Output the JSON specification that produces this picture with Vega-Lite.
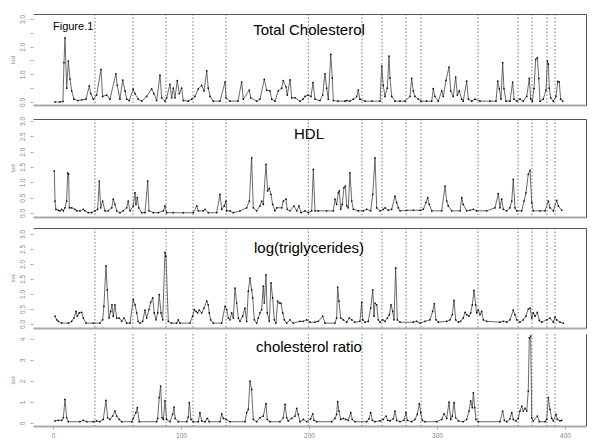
{
"$schema": "https://vega.github.io/schema/vega-lite/v6.json",
"padding": {"left": 9, "top": 13, "right": 5, "bottom": 5},
"config": {"view": {"stroke": null}, "font": "Liberation Sans", "axis": {"grid": false}},
"datasets": {
"bounds": [{"pos":32.8},{"pos":62.5},{"pos":88.3},{"pos":109.4},{"pos":135.2},{"pos":199.5},{"pos":241.4},{"pos":257.0},{"pos":275.8},{"pos":287.5},{"pos":332.0},{"pos":363.3},{"pos":374.2},{"pos":385.9},{"pos":392.2}],
"tc": [{"pos":1.6,"lod":0},{"pos":5.5,"lod":0},{"pos":7.8,"lod":0.02},{"pos":8.6,"lod":1.42},{"pos":9.4,"lod":2.32},{"pos":10.7,"lod":0.5},{"pos":12.0,"lod":1.48},{"pos":13.3,"lod":0.83},{"pos":14.6,"lod":0.4},{"pos":16.4,"lod":0.1},{"pos":19.5,"lod":0.05},{"pos":22.7,"lod":0.08},{"pos":25.8,"lod":0.1},{"pos":28.4,"lod":0.58},{"pos":29.5,"lod":0.3},{"pos":31.5,"lod":0.1},{"pos":34.1,"lod":0.25},{"pos":37.5,"lod":1.18},{"pos":38.8,"lod":0.2},{"pos":42.0,"lod":0.25},{"pos":44.5,"lod":0.1},{"pos":49.2,"lod":1.02},{"pos":50.2,"lod":0.6},{"pos":52.3,"lod":0.1},{"pos":54.5,"lod":0.79},{"pos":56.3,"lod":0.4},{"pos":57.6,"lod":0.1},{"pos":59.6,"lod":0.05},{"pos":62.7,"lod":0.46},{"pos":64.1,"lod":0.3},{"pos":66.6,"lod":0.1},{"pos":69.3,"lod":0.03},{"pos":73.2,"lod":0.2},{"pos":77.1,"lod":0.47},{"pos":78.9,"lod":0.3},{"pos":81.0,"lod":0.05},{"pos":83.6,"lod":0.97},{"pos":84.9,"lod":0.15},{"pos":87.5,"lod":0.03},{"pos":88.8,"lod":0.15},{"pos":91.4,"lod":0.64},{"pos":92.7,"lod":0.15},{"pos":94.0,"lod":0.5},{"pos":95.3,"lod":0.15},{"pos":97.1,"lod":0.77},{"pos":98.7,"lod":0.3},{"pos":100.5,"lod":0.5},{"pos":101.8,"lod":0.05},{"pos":105.7,"lod":0.03},{"pos":108.4,"lod":0.1},{"pos":110.9,"lod":0.2},{"pos":113.5,"lod":0.47},{"pos":116.2,"lod":0.6},{"pos":118.0,"lod":0.4},{"pos":120.1,"lod":1.12},{"pos":121.3,"lod":0.5},{"pos":122.7,"lod":0.2},{"pos":125.2,"lod":0.03},{"pos":130.5,"lod":0.03},{"pos":134.4,"lod":0.72},{"pos":135.2,"lod":0.15},{"pos":138.3,"lod":0.03},{"pos":144.5,"lod":0.03},{"pos":147.4,"lod":0.72},{"pos":148.7,"lod":0.1},{"pos":153.4,"lod":0.43},{"pos":154.5,"lod":0.15},{"pos":159.1,"lod":0.03},{"pos":161.7,"lod":0.1},{"pos":165.1,"lod":0.82},{"pos":166.9,"lod":0.43},{"pos":169.5,"lod":0.4},{"pos":170.9,"lod":0.1},{"pos":173.4,"lod":0.03},{"pos":176.0,"lod":0.4},{"pos":178.7,"lod":0.5},{"pos":179.9,"lod":0.77},{"pos":182.0,"lod":0.55},{"pos":183.0,"lod":0.25},{"pos":185.2,"lod":0.8},{"pos":186.5,"lod":0.15},{"pos":189.1,"lod":0.15},{"pos":193.0,"lod":0.03},{"pos":195.3,"lod":0.1},{"pos":196.9,"lod":0.2},{"pos":199.2,"lod":0.25},{"pos":201.6,"lod":0.2},{"pos":203.1,"lod":0.7},{"pos":204.7,"lod":0.1},{"pos":208.6,"lod":0.05},{"pos":210.7,"lod":0.25},{"pos":212.5,"lod":1.02},{"pos":213.8,"lod":0.5},{"pos":215.1,"lod":0.1},{"pos":217.0,"lod":1.72},{"pos":218.2,"lod":0.87},{"pos":219.0,"lod":0.05},{"pos":222.7,"lod":0.03},{"pos":228.1,"lod":0.03},{"pos":229.5,"lod":0.05},{"pos":232.0,"lod":0.03},{"pos":234.6,"lod":0.1},{"pos":237.3,"lod":0.2},{"pos":238.5,"lod":0.43},{"pos":239.8,"lod":0.1},{"pos":243.8,"lod":0.03},{"pos":249.2,"lod":0.03},{"pos":255.5,"lod":0.03},{"pos":256.8,"lod":1.3},{"pos":258.0,"lod":0.6},{"pos":259.4,"lod":0.2},{"pos":261.2,"lod":0.5},{"pos":262.5,"lod":1.66},{"pos":263.3,"lod":0.87},{"pos":264.6,"lod":0.2},{"pos":267.2,"lod":0.03},{"pos":271.1,"lod":0.03},{"pos":275.0,"lod":0.03},{"pos":278.9,"lod":0.2},{"pos":280.2,"lod":0.85},{"pos":281.5,"lod":0.4},{"pos":282.8,"lod":0.2},{"pos":285.4,"lod":0.1},{"pos":287.5,"lod":0.03},{"pos":291.9,"lod":0.03},{"pos":295.9,"lod":0.03},{"pos":297.1,"lod":0.48},{"pos":298.4,"lod":0.2},{"pos":301.0,"lod":0.03},{"pos":303.7,"lod":0.4},{"pos":304.9,"lod":0.2},{"pos":307.0,"lod":0.78},{"pos":309.4,"lod":1.26},{"pos":310.7,"lod":0.4},{"pos":312.7,"lod":0.2},{"pos":314.6,"lod":0.9},{"pos":315.9,"lod":0.25},{"pos":317.4,"lod":0.4},{"pos":319.3,"lod":0.1},{"pos":320.5,"lod":0.03},{"pos":323.2,"lod":0.75},{"pos":324.5,"lod":0.1},{"pos":327.1,"lod":0.03},{"pos":329.7,"lod":0.1},{"pos":333.6,"lod":0.03},{"pos":341.4,"lod":0.03},{"pos":346.1,"lod":0.03},{"pos":347.4,"lod":0.75},{"pos":348.7,"lod":0.48},{"pos":350.0,"lod":0.1},{"pos":351.3,"lod":1.42},{"pos":352.3,"lod":0.48},{"pos":353.9,"lod":0.03},{"pos":357.0,"lod":0.03},{"pos":359.1,"lod":0.72},{"pos":360.2,"lod":0.1},{"pos":362.3,"lod":0.03},{"pos":364.8,"lod":0.1},{"pos":367.4,"lod":0.03},{"pos":370.1,"lod":0.2},{"pos":372.1,"lod":0.85},{"pos":373.2,"lod":0.1},{"pos":374.5,"lod":0.03},{"pos":375.8,"lod":0.48},{"pos":377.1,"lod":1.54},{"pos":378.4,"lod":1.6},{"pos":379.5,"lod":0.85},{"pos":380.5,"lod":0.03},{"pos":383.0,"lod":0.1},{"pos":385.2,"lod":0.43},{"pos":386.2,"lod":1.48},{"pos":387.0,"lod":1.37},{"pos":387.7,"lod":0.5},{"pos":388.8,"lod":0.15},{"pos":390.9,"lod":0.03},{"pos":393.0,"lod":0.2},{"pos":394.3,"lod":0.74},{"pos":395.5,"lod":0.72},{"pos":396.6,"lod":0.1},{"pos":398.2,"lod":0.03}],
"hdl": [{"pos":1.0,"lod":1.37},{"pos":1.6,"lod":0.39},{"pos":2.3,"lod":0.12},{"pos":4.2,"lod":0.09},{"pos":5.5,"lod":0.07},{"pos":6.8,"lod":0.12},{"pos":8.1,"lod":0.07},{"pos":9.4,"lod":0.17},{"pos":10.7,"lod":0.39},{"pos":11.5,"lod":1.31},{"pos":12.2,"lod":1.26},{"pos":12.8,"lod":0.17},{"pos":14.6,"lod":0.17},{"pos":17.2,"lod":0.12},{"pos":18.5,"lod":0.07},{"pos":21.1,"lod":0.07},{"pos":23.7,"lod":0.12},{"pos":25.0,"lod":0.07},{"pos":27.6,"lod":0.01},{"pos":30.2,"lod":0.01},{"pos":32.8,"lod":0.07},{"pos":34.9,"lod":0.12},{"pos":36.2,"lod":1.04},{"pos":37.3,"lod":0.17},{"pos":38.8,"lod":0.39},{"pos":40.6,"lod":0.07},{"pos":43.2,"lod":0.07},{"pos":45.9,"lod":0.17},{"pos":47.1,"lod":0.45},{"pos":48.4,"lod":0.28},{"pos":49.8,"lod":0.07},{"pos":52.3,"lod":0.01},{"pos":54.9,"lod":0.07},{"pos":57.6,"lod":0.17},{"pos":58.8,"lod":0.39},{"pos":60.2,"lod":0.07},{"pos":62.7,"lod":0.23},{"pos":64.1,"lod":0.66},{"pos":64.8,"lod":0.28},{"pos":65.9,"lod":0.5},{"pos":67.0,"lod":0.17},{"pos":69.3,"lod":0.01},{"pos":71.9,"lod":0.01},{"pos":74.0,"lod":1.04},{"pos":75.0,"lod":0.07},{"pos":78.4,"lod":0.01},{"pos":82.3,"lod":0.01},{"pos":86.2,"lod":0.07},{"pos":87.5,"lod":0.23},{"pos":88.8,"lod":0.01},{"pos":94.0,"lod":0.01},{"pos":101.8,"lod":0.01},{"pos":109.6,"lod":0.01},{"pos":112.3,"lod":0.23},{"pos":113.5,"lod":0.07},{"pos":117.4,"lod":0.07},{"pos":118.8,"lod":0.12},{"pos":121.3,"lod":0.01},{"pos":127.9,"lod":0.01},{"pos":130.5,"lod":0.61},{"pos":131.8,"lod":0.12},{"pos":133.8,"lod":0.23},{"pos":135.2,"lod":0.39},{"pos":135.7,"lod":0.07},{"pos":138.3,"lod":0.07},{"pos":140.9,"lod":0.01},{"pos":146.1,"lod":0.07},{"pos":151.3,"lod":0.17},{"pos":153.4,"lod":0.39},{"pos":155.2,"lod":1.8},{"pos":156.5,"lod":0.17},{"pos":159.1,"lod":0.07},{"pos":161.7,"lod":0.23},{"pos":163.0,"lod":0.39},{"pos":164.3,"lod":0.28},{"pos":166.4,"lod":1.59},{"pos":167.7,"lod":0.72},{"pos":169.0,"lod":0.8},{"pos":170.3,"lod":0.61},{"pos":171.6,"lod":0.28},{"pos":173.4,"lod":0.07},{"pos":174.8,"lod":0.17},{"pos":178.7,"lod":0.17},{"pos":179.9,"lod":0.39},{"pos":182.0,"lod":0.45},{"pos":183.0,"lod":0.12},{"pos":185.2,"lod":0.07},{"pos":188.3,"lod":0.23},{"pos":190.4,"lod":0.07},{"pos":192.2,"lod":0.23},{"pos":193.8,"lod":0.01},{"pos":196.9,"lod":0.07},{"pos":199.5,"lod":0.01},{"pos":202.1,"lod":0.07},{"pos":203.4,"lod":1.42},{"pos":204.7,"lod":0.07},{"pos":207.3,"lod":0.07},{"pos":213.8,"lod":0.07},{"pos":219.0,"lod":0.07},{"pos":220.3,"lod":0.45},{"pos":221.6,"lod":0.28},{"pos":222.9,"lod":0.66},{"pos":223.7,"lod":0.72},{"pos":224.8,"lod":0.12},{"pos":226.0,"lod":0.28},{"pos":227.3,"lod":0.83},{"pos":228.4,"lod":0.88},{"pos":229.5,"lod":0.23},{"pos":230.7,"lod":0.17},{"pos":232.0,"lod":1.31},{"pos":233.4,"lod":0.39},{"pos":234.6,"lod":0.12},{"pos":238.5,"lod":0.07},{"pos":242.4,"lod":0.07},{"pos":245.1,"lod":0.12},{"pos":248.2,"lod":0.07},{"pos":249.8,"lod":0.61},{"pos":251.6,"lod":1.8},{"pos":252.9,"lod":0.17},{"pos":255.5,"lod":0.07},{"pos":258.0,"lod":0.12},{"pos":259.4,"lod":0.17},{"pos":262.0,"lod":0.09},{"pos":264.6,"lod":0.12},{"pos":267.2,"lod":0.55},{"pos":268.5,"lod":0.34},{"pos":269.8,"lod":0.17},{"pos":271.1,"lod":0.07},{"pos":276.3,"lod":0.09},{"pos":281.5,"lod":0.09},{"pos":286.7,"lod":0.09},{"pos":289.3,"lod":0.12},{"pos":291.4,"lod":0.34},{"pos":292.7,"lod":0.5},{"pos":294.0,"lod":0.28},{"pos":295.9,"lod":0.07},{"pos":303.7,"lod":0.07},{"pos":306.3,"lod":0.88},{"pos":307.6,"lod":0.39},{"pos":308.8,"lod":0.23},{"pos":311.5,"lod":0.07},{"pos":318.0,"lod":0.07},{"pos":319.3,"lod":0.5},{"pos":320.5,"lod":0.28},{"pos":323.2,"lod":0.07},{"pos":325.8,"lod":0.09},{"pos":328.4,"lod":0.12},{"pos":331.0,"lod":0.07},{"pos":338.8,"lod":0.07},{"pos":345.3,"lod":0.17},{"pos":347.9,"lod":0.63},{"pos":349.2,"lod":0.17},{"pos":350.5,"lod":0.45},{"pos":351.8,"lod":0.12},{"pos":354.5,"lod":0.07},{"pos":357.0,"lod":0.17},{"pos":358.4,"lod":0.39},{"pos":359.6,"lod":1.1},{"pos":360.9,"lod":0.17},{"pos":362.3,"lod":0.07},{"pos":366.2,"lod":0.07},{"pos":368.0,"lod":0.39},{"pos":369.5,"lod":0.66},{"pos":371.3,"lod":1.26},{"pos":372.7,"lod":1.39},{"pos":374.0,"lod":0.34},{"pos":375.2,"lod":0.07},{"pos":380.5,"lod":0.07},{"pos":384.4,"lod":0.07},{"pos":387.0,"lod":0.39},{"pos":388.3,"lod":0.17},{"pos":390.9,"lod":0.07},{"pos":393.5,"lod":0.41},{"pos":394.8,"lod":0.23},{"pos":397.4,"lod":0.09}],
"tg": [{"pos":1.6,"lod":0.26},{"pos":2.9,"lod":0.14},{"pos":4.2,"lod":0.09},{"pos":6.8,"lod":0.03},{"pos":12.0,"lod":0.03},{"pos":14.6,"lod":0.09},{"pos":16.4,"lod":0.2},{"pos":18.0,"lod":0.42},{"pos":19.0,"lod":0.26},{"pos":20.5,"lod":0.37},{"pos":22.4,"lod":0.39},{"pos":23.7,"lod":0.2},{"pos":25.8,"lod":0.03},{"pos":31.5,"lod":0.03},{"pos":36.7,"lod":0.03},{"pos":38.8,"lod":0.14},{"pos":39.8,"lod":0.59},{"pos":41.4,"lod":1.94},{"pos":42.4,"lod":1.14},{"pos":43.8,"lod":0.2},{"pos":45.1,"lod":0.42},{"pos":46.1,"lod":0.64},{"pos":47.1,"lod":0.26},{"pos":48.4,"lod":0.64},{"pos":49.8,"lod":0.2},{"pos":51.8,"lod":0.2},{"pos":53.7,"lod":0.09},{"pos":55.5,"lod":0.2},{"pos":57.6,"lod":0.03},{"pos":60.2,"lod":0.03},{"pos":62.7,"lod":0.81},{"pos":64.1,"lod":0.64},{"pos":65.4,"lod":0.37},{"pos":66.6,"lod":0.09},{"pos":68.0,"lod":0.03},{"pos":70.1,"lod":0.09},{"pos":71.9,"lod":0.46},{"pos":73.2,"lod":0.2},{"pos":75.0,"lod":0.48},{"pos":76.3,"lod":0.72},{"pos":77.9,"lod":0.87},{"pos":79.1,"lod":0.37},{"pos":80.5,"lod":0.14},{"pos":81.8,"lod":0.37},{"pos":83.0,"lod":0.98},{"pos":84.4,"lod":0.37},{"pos":85.7,"lod":0.14},{"pos":87.5,"lod":2.39},{"pos":88.3,"lod":2.26},{"pos":90.1,"lod":0.09},{"pos":92.7,"lod":0.03},{"pos":96.6,"lod":0.03},{"pos":97.9,"lod":0.14},{"pos":99.2,"lod":0.03},{"pos":107.0,"lod":0.03},{"pos":109.1,"lod":0.26},{"pos":110.4,"lod":0.48},{"pos":111.7,"lod":0.42},{"pos":113.0,"lod":0.37},{"pos":114.3,"lod":0.46},{"pos":116.2,"lod":0.37},{"pos":118.0,"lod":0.53},{"pos":120.1,"lod":0.76},{"pos":121.3,"lod":0.64},{"pos":122.1,"lod":0.37},{"pos":123.2,"lod":0.14},{"pos":125.2,"lod":0.03},{"pos":131.8,"lod":0.03},{"pos":134.4,"lod":0.59},{"pos":135.7,"lod":0.48},{"pos":137.0,"lod":0.2},{"pos":138.3,"lod":0.14},{"pos":139.6,"lod":0.37},{"pos":140.9,"lod":0.2},{"pos":142.2,"lod":1.2},{"pos":143.5,"lod":0.7},{"pos":144.8,"lod":0.2},{"pos":146.1,"lod":0.09},{"pos":148.2,"lod":0.26},{"pos":150.0,"lod":0.53},{"pos":151.3,"lod":0.09},{"pos":152.6,"lod":1.09},{"pos":153.9,"lod":1.53},{"pos":155.2,"lod":1.14},{"pos":156.0,"lod":0.87},{"pos":157.3,"lod":0.14},{"pos":159.1,"lod":0.03},{"pos":160.4,"lod":0.2},{"pos":161.7,"lod":0.37},{"pos":163.0,"lod":0.48},{"pos":164.3,"lod":1.26},{"pos":165.1,"lod":0.7},{"pos":166.4,"lod":1.64},{"pos":167.4,"lod":0.37},{"pos":169.0,"lod":0.09},{"pos":170.3,"lod":1.37},{"pos":171.6,"lod":0.87},{"pos":172.9,"lod":0.14},{"pos":174.2,"lod":0.03},{"pos":175.5,"lod":0.76},{"pos":176.8,"lod":0.7},{"pos":178.1,"lod":0.7},{"pos":179.5,"lod":0.37},{"pos":180.7,"lod":0.14},{"pos":182.6,"lod":0.03},{"pos":185.2,"lod":0.14},{"pos":187.7,"lod":0.03},{"pos":193.0,"lod":0.09},{"pos":195.6,"lod":0.09},{"pos":198.2,"lod":0.14},{"pos":200.8,"lod":0.06},{"pos":204.7,"lod":0.06},{"pos":207.3,"lod":0.09},{"pos":210.7,"lod":0.26},{"pos":212.5,"lod":0.03},{"pos":220.3,"lod":0.03},{"pos":221.6,"lod":0.2},{"pos":222.4,"lod":1.23},{"pos":223.4,"lod":0.76},{"pos":224.8,"lod":0.2},{"pos":226.8,"lod":0.14},{"pos":229.5,"lod":0.06},{"pos":231.5,"lod":0.2},{"pos":233.4,"lod":0.14},{"pos":235.9,"lod":0.06},{"pos":239.8,"lod":0.09},{"pos":241.2,"lod":0.72},{"pos":242.0,"lod":0.14},{"pos":243.8,"lod":0.06},{"pos":246.3,"lod":0.09},{"pos":248.2,"lod":0.53},{"pos":249.8,"lod":1.14},{"pos":250.8,"lod":0.26},{"pos":251.6,"lod":0.7},{"pos":252.9,"lod":0.64},{"pos":254.1,"lod":0.14},{"pos":255.5,"lod":0.06},{"pos":257.6,"lod":0.14},{"pos":259.4,"lod":0.09},{"pos":261.2,"lod":0.2},{"pos":262.8,"lod":0.31},{"pos":264.1,"lod":0.64},{"pos":265.4,"lod":0.42},{"pos":266.4,"lod":0.14},{"pos":267.7,"lod":1.87},{"pos":269.0,"lod":0.14},{"pos":271.1,"lod":0.06},{"pos":281.5,"lod":0.06},{"pos":284.1,"lod":0.09},{"pos":286.7,"lod":0.03},{"pos":290.6,"lod":0.09},{"pos":294.5,"lod":0.14},{"pos":296.6,"lod":0.42},{"pos":297.9,"lod":0.68},{"pos":299.2,"lod":0.14},{"pos":301.0,"lod":0.06},{"pos":307.6,"lod":0.09},{"pos":310.2,"lod":0.14},{"pos":312.0,"lod":0.31},{"pos":313.3,"lod":0.79},{"pos":314.6,"lod":0.14},{"pos":316.7,"lod":0.06},{"pos":318.5,"lod":0.09},{"pos":320.5,"lod":0.2},{"pos":321.9,"lod":0.39},{"pos":323.2,"lod":0.31},{"pos":325.0,"lod":0.26},{"pos":326.3,"lod":0.37},{"pos":327.6,"lod":0.64},{"pos":328.9,"lod":1.12},{"pos":330.2,"lod":0.64},{"pos":331.0,"lod":0.37},{"pos":332.3,"lod":0.46},{"pos":333.6,"lod":0.31},{"pos":334.9,"lod":0.42},{"pos":336.2,"lod":0.14},{"pos":338.8,"lod":0.09},{"pos":349.2,"lod":0.06},{"pos":351.8,"lod":0.09},{"pos":354.5,"lod":0.06},{"pos":357.0,"lod":0.14},{"pos":359.6,"lod":0.46},{"pos":360.9,"lod":0.31},{"pos":362.3,"lod":0.14},{"pos":364.8,"lod":0.06},{"pos":367.4,"lod":0.14},{"pos":369.5,"lod":0.26},{"pos":371.3,"lod":0.5},{"pos":372.7,"lod":0.53},{"pos":374.0,"lod":0.2},{"pos":375.2,"lod":0.37},{"pos":376.6,"lod":0.26},{"pos":378.4,"lod":0.39},{"pos":379.9,"lod":0.12},{"pos":381.8,"lod":0.06},{"pos":385.7,"lod":0.14},{"pos":388.3,"lod":0.2},{"pos":390.9,"lod":0.06},{"pos":392.2,"lod":0.23},{"pos":393.5,"lod":0.14},{"pos":396.1,"lod":0.06},{"pos":398.7,"lod":0.03}],
"ratio": [{"pos":1.6,"lod":0.1},{"pos":4.2,"lod":0.13},{"pos":6.8,"lod":0.13},{"pos":8.1,"lod":0.25},{"pos":9.4,"lod":1.13},{"pos":10.7,"lod":0.25},{"pos":12.0,"lod":0.06},{"pos":21.1,"lod":0.06},{"pos":23.7,"lod":0.13},{"pos":26.3,"lod":0.06},{"pos":31.5,"lod":0.06},{"pos":34.1,"lod":0.1},{"pos":36.7,"lod":0.06},{"pos":39.3,"lod":0.17},{"pos":41.4,"lod":1.08},{"pos":42.7,"lod":0.25},{"pos":44.5,"lod":0.17},{"pos":46.6,"lod":0.33},{"pos":48.4,"lod":0.57},{"pos":49.8,"lod":0.33},{"pos":51.8,"lod":0.17},{"pos":53.7,"lod":0.06},{"pos":61.5,"lod":0.06},{"pos":62.7,"lod":0.22},{"pos":64.8,"lod":0.49},{"pos":65.9,"lod":0.73},{"pos":67.4,"lod":0.06},{"pos":81.0,"lod":0.06},{"pos":81.8,"lod":0.22},{"pos":83.0,"lod":1.21},{"pos":84.1,"lod":1.76},{"pos":85.2,"lod":0.25},{"pos":86.2,"lod":0.17},{"pos":87.5,"lod":1.05},{"pos":88.8,"lod":0.17},{"pos":91.4,"lod":0.06},{"pos":93.5,"lod":0.41},{"pos":94.5,"lod":0.76},{"pos":95.5,"lod":0.22},{"pos":97.9,"lod":0.06},{"pos":104.5,"lod":0.06},{"pos":105.7,"lod":0.28},{"pos":106.5,"lod":0.97},{"pos":107.8,"lod":0.17},{"pos":109.6,"lod":0.06},{"pos":113.5,"lod":0.06},{"pos":114.8,"lod":0.49},{"pos":116.2,"lod":0.1},{"pos":118.8,"lod":0.06},{"pos":120.6,"lod":0.22},{"pos":122.1,"lod":0.06},{"pos":130.5,"lod":0.06},{"pos":131.8,"lod":0.44},{"pos":133.1,"lod":0.22},{"pos":135.2,"lod":0.17},{"pos":138.3,"lod":0.06},{"pos":150.0,"lod":0.06},{"pos":151.3,"lod":0.49},{"pos":152.6,"lod":0.65},{"pos":153.9,"lod":2.0},{"pos":155.2,"lod":1.6},{"pos":156.5,"lod":0.17},{"pos":159.1,"lod":0.06},{"pos":161.7,"lod":0.25},{"pos":164.3,"lod":0.33},{"pos":166.4,"lod":0.92},{"pos":167.4,"lod":0.17},{"pos":169.5,"lod":0.06},{"pos":177.3,"lod":0.06},{"pos":179.9,"lod":0.25},{"pos":181.3,"lod":0.89},{"pos":182.6,"lod":0.25},{"pos":183.8,"lod":0.1},{"pos":186.5,"lod":0.22},{"pos":189.1,"lod":0.33},{"pos":190.4,"lod":0.7},{"pos":191.6,"lod":0.41},{"pos":193.0,"lod":0.06},{"pos":195.6,"lod":0.17},{"pos":198.2,"lod":0.06},{"pos":201.3,"lod":0.2},{"pos":202.9,"lod":0.44},{"pos":203.9,"lod":0.13},{"pos":206.0,"lod":0.06},{"pos":217.7,"lod":0.06},{"pos":220.3,"lod":0.22},{"pos":221.6,"lod":0.41},{"pos":222.4,"lod":1.02},{"pos":223.4,"lod":0.57},{"pos":224.8,"lod":0.17},{"pos":226.8,"lod":0.22},{"pos":228.7,"lod":0.17},{"pos":230.7,"lod":0.13},{"pos":232.6,"lod":0.49},{"pos":233.8,"lod":0.17},{"pos":235.9,"lod":0.06},{"pos":245.1,"lod":0.06},{"pos":246.9,"lod":0.2},{"pos":248.2,"lod":0.49},{"pos":249.5,"lod":0.13},{"pos":251.6,"lod":0.06},{"pos":255.5,"lod":0.1},{"pos":258.0,"lod":0.17},{"pos":260.2,"lod":0.33},{"pos":261.5,"lod":0.13},{"pos":263.3,"lod":0.1},{"pos":265.9,"lod":0.2},{"pos":267.2,"lod":0.57},{"pos":268.5,"lod":0.13},{"pos":271.1,"lod":0.06},{"pos":274.2,"lod":0.13},{"pos":275.8,"lod":0.49},{"pos":276.8,"lod":0.13},{"pos":280.2,"lod":0.06},{"pos":282.8,"lod":0.17},{"pos":284.6,"lod":0.41},{"pos":286.2,"lod":0.92},{"pos":287.3,"lod":0.49},{"pos":288.5,"lod":0.13},{"pos":290.6,"lod":0.06},{"pos":299.8,"lod":0.06},{"pos":303.7,"lod":0.17},{"pos":305.5,"lod":0.44},{"pos":307.6,"lod":0.22},{"pos":309.4,"lod":1.0},{"pos":310.7,"lod":0.17},{"pos":312.0,"lod":0.33},{"pos":313.3,"lod":0.97},{"pos":314.6,"lod":0.25},{"pos":316.7,"lod":0.1},{"pos":320.5,"lod":0.06},{"pos":323.2,"lod":0.17},{"pos":325.0,"lod":0.57},{"pos":326.3,"lod":1.05},{"pos":327.6,"lod":0.73},{"pos":328.4,"lod":1.44},{"pos":329.5,"lod":0.73},{"pos":330.5,"lod":0.17},{"pos":332.3,"lod":0.06},{"pos":349.2,"lod":0.06},{"pos":351.3,"lod":0.57},{"pos":352.6,"lod":0.13},{"pos":354.5,"lod":0.06},{"pos":357.0,"lod":0.2},{"pos":358.4,"lod":0.49},{"pos":359.6,"lod":0.17},{"pos":361.7,"lod":0.1},{"pos":363.5,"lod":0.22},{"pos":364.8,"lod":0.57},{"pos":366.2,"lod":0.81},{"pos":367.4,"lod":0.57},{"pos":368.8,"lod":0.7},{"pos":370.1,"lod":0.57},{"pos":371.3,"lod":1.52},{"pos":372.1,"lod":4.06},{"pos":373.2,"lod":4.14},{"pos":374.0,"lod":0.25},{"pos":375.2,"lod":0.1},{"pos":378.4,"lod":0.33},{"pos":379.9,"lod":0.06},{"pos":384.4,"lod":0.06},{"pos":385.7,"lod":0.17},{"pos":387.0,"lod":1.21},{"pos":388.3,"lod":0.65},{"pos":389.6,"lod":0.22},{"pos":390.9,"lod":0.1},{"pos":393.0,"lod":0.41},{"pos":394.0,"lod":0.17},{"pos":396.1,"lod":0.1},{"pos":397.4,"lod":0.13}]
},
"spacing": 14,
"bounds": "flush",
"vconcat": [
{
 "width": 553, "height": 91,
 "resolve": {"axis": {"x": "independent", "y": "independent"}},
 "layer": [
  {"data": {"name": "bounds"}, "mark": {"type": "rule", "color": "#555", "strokeWidth": 0.8, "strokeDash": [1.5, 2]},
   "encoding": {"x": {"field": "pos", "type": "quantitative", "scale": {"domain": [-15.6, 416.4], "nice": false, "zero": false}, "axis": null}}},
  {"data": {"name": "tc"}, "mark": {"type": "line", "color": "#444", "strokeWidth": 0.8, "point": {"filled": true, "size": 3, "color": "#111"}},
   "encoding": {
    "x": {"field": "pos", "type": "quantitative", "scale": {"domain": [-15.6, 416.4], "nice": false, "zero": false}, "axis": {"labels": false, "ticks": false, "title": null, "domainColor": "#aaa", "domainWidth": 2}},
    "y": {"field": "lod", "type": "quantitative", "scale": {"domain": [-0.11, 3.18], "nice": false, "zero": false}, "axis": {"values": [0, 0.5, 1, 1.5, 2, 2.5, 3], "labelExpr": "datum.value % 1 == 0 ? format(datum.value, '.1f') : ''", "title": "lod", "titleFontSize": 6, "titleColor": "#888", "titleFontWeight": "normal", "titlePadding": 2, "labelFontSize": 6.5, "labelColor": "#888", "labelAngle": -90, "labelAlign": "center", "labelBaseline": "bottom", "labelPadding": 5, "tickSize": 3, "tickColor": "#aaa", "domain": false, "minExtent": 16, "maxExtent": 16}}}},
  {"data": {"name": "tc"}, "mark": {"type": "line", "opacity": 0},
   "encoding": {
    "x": {"field": "pos", "type": "quantitative", "scale": {"domain": [-15.6, 416.4], "nice": false, "zero": false}, "axis": {"orient": "top", "labels": false, "ticks": false, "title": null, "domainColor": "#555", "domainWidth": 1}},
    "y": {"field": "lod", "type": "quantitative", "scale": {"domain": [-0.11, 3.18], "nice": false, "zero": false}, "axis": {"orient": "right", "labels": false, "ticks": false, "title": null, "domainColor": "#555", "domainWidth": 1}}}},
  {"data": {"values": [{"label": "Total Cholesterol"}]}, "mark": {"type": "text", "fontSize": 15, "color": "#000", "align": "center", "baseline": "middle"},
   "encoding": {"x": {"datum": 200, "type": "quantitative", "axis": null}, "y": {"datum": 2.6, "type": "quantitative", "axis": null}, "text": {"field": "label"}}},
  {"data": {"values": [{"label": "Figure.1"}]}, "mark": {"type": "text", "fontSize": 11, "color": "#000", "align": "left", "baseline": "middle"},
   "encoding": {"x": {"datum": 0, "type": "quantitative", "axis": null}, "y": {"datum": 2.71, "type": "quantitative", "axis": null}, "text": {"field": "label"}}}
 ]
},
{
 "spacing": 11,
 "bounds": "flush",
 "vconcat": [
 {
  "width": 553, "height": 98,
  "resolve": {"axis": {"x": "independent", "y": "independent"}},
  "layer": [
   {"data": {"name": "bounds"}, "mark": {"type": "rule", "color": "#555", "strokeWidth": 0.8, "strokeDash": [1.5, 2]},
    "encoding": {"x": {"field": "pos", "type": "quantitative", "scale": {"domain": [-15.6, 416.4], "nice": false, "zero": false}, "axis": null}}},
   {"data": {"name": "hdl"}, "mark": {"type": "line", "color": "#444", "strokeWidth": 0.8, "point": {"filled": true, "size": 3, "color": "#111"}},
    "encoding": {
     "x": {"field": "pos", "type": "quantitative", "scale": {"domain": [-15.6, 416.4], "nice": false, "zero": false}, "axis": {"labels": false, "ticks": false, "title": null, "domainColor": "#aaa", "domainWidth": 2}},
     "y": {"field": "lod", "type": "quantitative", "scale": {"domain": [-0.13, 3.065], "nice": false, "zero": false}, "axis": {"values": [0, 0.5, 1, 1.5, 2, 2.5, 3], "format": ".1f", "title": "lod", "titleFontSize": 6, "titleColor": "#888", "titleFontWeight": "normal", "titlePadding": 2, "labelFontSize": 6.5, "labelColor": "#888", "labelAngle": -90, "labelAlign": "center", "labelBaseline": "bottom", "labelPadding": 5, "tickSize": 3, "tickColor": "#aaa", "domain": false, "minExtent": 16, "maxExtent": 16}}}},
   {"data": {"name": "hdl"}, "mark": {"type": "line", "opacity": 0},
    "encoding": {
     "x": {"field": "pos", "type": "quantitative", "scale": {"domain": [-15.6, 416.4], "nice": false, "zero": false}, "axis": {"orient": "top", "labels": false, "ticks": false, "title": null, "domainColor": "#555", "domainWidth": 1}},
     "y": {"field": "lod", "type": "quantitative", "scale": {"domain": [-0.13, 3.065], "nice": false, "zero": false}, "axis": {"orient": "right", "labels": false, "ticks": false, "title": null, "domainColor": "#555", "domainWidth": 1}}}},
   {"data": {"values": [{"label": "HDL"}]}, "mark": {"type": "text", "fontSize": 15, "color": "#000", "align": "center", "baseline": "middle"},
    "encoding": {"x": {"datum": 200, "type": "quantitative", "axis": null}, "y": {"datum": 2.58, "type": "quantitative", "axis": null}, "text": {"field": "label"}}}
  ]
 },
 {
  "spacing": 6,
  "bounds": "flush",
  "vconcat": [
  {
   "width": 553, "height": 100,
   "resolve": {"axis": {"x": "independent", "y": "independent"}},
   "layer": [
    {"data": {"name": "bounds"}, "mark": {"type": "rule", "color": "#555", "strokeWidth": 0.8, "strokeDash": [1.5, 2]},
     "encoding": {"x": {"field": "pos", "type": "quantitative", "scale": {"domain": [-15.6, 416.4], "nice": false, "zero": false}, "axis": null}}},
    {"data": {"name": "tg"}, "mark": {"type": "line", "color": "#444", "strokeWidth": 0.8, "point": {"filled": true, "size": 3, "color": "#111"}},
     "encoding": {
      "x": {"field": "pos", "type": "quantitative", "scale": {"domain": [-15.6, 416.4], "nice": false, "zero": false}, "axis": {"labels": false, "ticks": false, "title": null, "domainColor": "#aaa", "domainWidth": 2}},
      "y": {"field": "lod", "type": "quantitative", "scale": {"domain": [-0.133, 3.2], "nice": false, "zero": false}, "axis": {"values": [0, 0.5, 1, 1.5, 2, 2.5, 3], "format": ".1f", "title": "lod", "titleFontSize": 6, "titleColor": "#888", "titleFontWeight": "normal", "titlePadding": 2, "labelFontSize": 6.5, "labelColor": "#888", "labelAngle": -90, "labelAlign": "center", "labelBaseline": "bottom", "labelPadding": 5, "tickSize": 3, "tickColor": "#aaa", "domain": false, "minExtent": 16, "maxExtent": 16}}}},
    {"data": {"name": "tg"}, "mark": {"type": "line", "opacity": 0},
     "encoding": {
      "x": {"field": "pos", "type": "quantitative", "scale": {"domain": [-15.6, 416.4], "nice": false, "zero": false}, "axis": {"orient": "top", "labels": false, "ticks": false, "title": null, "domainColor": "#555", "domainWidth": 1}},
      "y": {"field": "lod", "type": "quantitative", "scale": {"domain": [-0.133, 3.2], "nice": false, "zero": false}, "axis": {"orient": "right", "labels": false, "ticks": false, "title": null, "domainColor": "#555", "domainWidth": 1}}}},
    {"data": {"values": [{"label": "log(triglycerides)"}]}, "mark": {"type": "text", "fontSize": 15, "color": "#000", "align": "center", "baseline": "middle"},
     "encoding": {"x": {"datum": 200, "type": "quantitative", "axis": null}, "y": {"datum": 2.55, "type": "quantitative", "axis": null}, "text": {"field": "label"}}}
   ]
  },
  {
   "width": 553, "height": 92,
   "resolve": {"axis": {"x": "independent", "y": "independent"}},
   "layer": [
    {"data": {"name": "bounds"}, "mark": {"type": "rule", "color": "#555", "strokeWidth": 0.8, "strokeDash": [1.5, 2]},
     "encoding": {"x": {"field": "pos", "type": "quantitative", "scale": {"domain": [-15.6, 416.4], "nice": false, "zero": false}, "axis": null}}},
    {"data": {"name": "ratio"}, "mark": {"type": "line", "color": "#444", "strokeWidth": 0.8, "point": {"filled": true, "size": 3, "color": "#111"}},
     "encoding": {
      "x": {"field": "pos", "type": "quantitative", "scale": {"domain": [-15.6, 416.4], "nice": false, "zero": false}, "axis": {"values": [0, 100, 200, 300, 400], "format": "d", "title": null, "labelFontSize": 6.5, "labelColor": "#888", "labelPadding": 3, "tickSize": 3, "tickColor": "#aaa", "domainColor": "#aaa", "domainWidth": 2}},
      "y": {"field": "lod", "type": "quantitative", "scale": {"domain": [-0.143, 4.24], "nice": false, "zero": false}, "axis": {"values": [0, 1, 2, 3, 4], "format": "d", "title": "lod", "titleFontSize": 6, "titleColor": "#888", "titleFontWeight": "normal", "titlePadding": 2, "labelFontSize": 6.5, "labelColor": "#888", "labelAngle": -90, "labelAlign": "center", "labelBaseline": "bottom", "labelPadding": 5, "tickSize": 3, "tickColor": "#aaa", "domain": false, "minExtent": 16, "maxExtent": 16}}}},
    {"data": {"name": "ratio"}, "mark": {"type": "line", "opacity": 0},
     "encoding": {
      "x": {"field": "pos", "type": "quantitative", "scale": {"domain": [-15.6, 416.4], "nice": false, "zero": false}, "axis": null},
      "y": {"field": "lod", "type": "quantitative", "scale": {"domain": [-0.143, 4.24], "nice": false, "zero": false}, "axis": {"orient": "right", "labels": false, "ticks": false, "title": null, "domainColor": "#555", "domainWidth": 1}}}},
    {"data": {"values": [{"label": "cholesterol ratio"}]}, "mark": {"type": "text", "fontSize": 15, "color": "#000", "align": "center", "baseline": "middle"},
     "encoding": {"x": {"datum": 200, "type": "quantitative", "axis": null}, "y": {"datum": 3.6, "type": "quantitative", "axis": null}, "text": {"field": "label"}}}
   ]
  }
  ]
 }
 ]
}
]
}
